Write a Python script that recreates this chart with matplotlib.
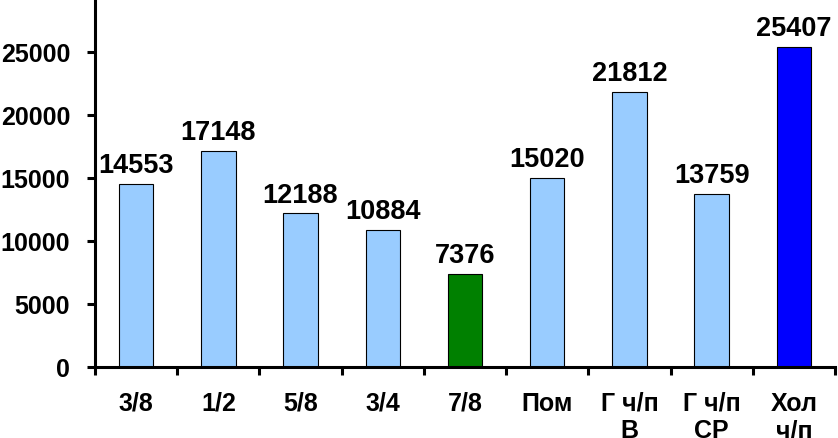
import numpy as np
import matplotlib
matplotlib.use("Agg")
import matplotlib.pyplot as plt

categories = ["3/8", "1/2", "5/8", "3/4", "7/8", "Пом", "Г ч/п\nВ", "Г ч/п\nСР", "Хол\nч/п"]
values = [14553, 17148, 12188, 10884, 7376, 15020, 21812, 13759, 25407]
colors = ["#99CCFF"] * 4 + ["#008000"] + ["#99CCFF"] * 3 + ["#0000FF"]

plt.rcParams['font.family'] = ['Liberation Sans', 'DejaVu Sans']
plt.rcParams['font.weight'] = 'bold'

fig = plt.figure(figsize=(8.38, 4.39), dpi=100)
ax = fig.add_axes([95 / 838, 71 / 439, 740 / 838, 368 / 439])

x = np.arange(len(values))
ax.bar(x, values, width=0.42, color=colors, edgecolor="black", linewidth=0.8)

for xi, v in zip(x, values):
    ax.text(xi, v + 450, str(v), ha="center", va="bottom",
            fontsize=19.5, fontweight="bold")

ax.set_xlim(-0.5, len(values) - 0.5)
ax.set_ylim(0, 29200)
ax.set_yticks(np.arange(0, 25001, 5000))
ax.tick_params(axis="y", labelsize=18, width=2.2, length=6, pad=12)

ax.set_xticks(x)
ax.set_xticklabels(categories, fontsize=18, fontweight="bold", linespacing=1.2)
ax.set_xticks(np.arange(-0.5, len(values)), minor=True)
ax.tick_params(axis="x", which="major", length=0, pad=17)
ax.tick_params(axis="x", which="minor", length=6, width=2.2)
for lab in ax.get_xticklabels():
    lab.set_va("top")
for lab in ax.get_yticklabels():
    lab.set_fontweight("bold")

for s in ["top", "right"]:
    ax.spines[s].set_visible(False)
ax.spines["left"].set_linewidth(2.2)
ax.spines["bottom"].set_linewidth(2.2)

fig.savefig("out.png", dpi=100)
